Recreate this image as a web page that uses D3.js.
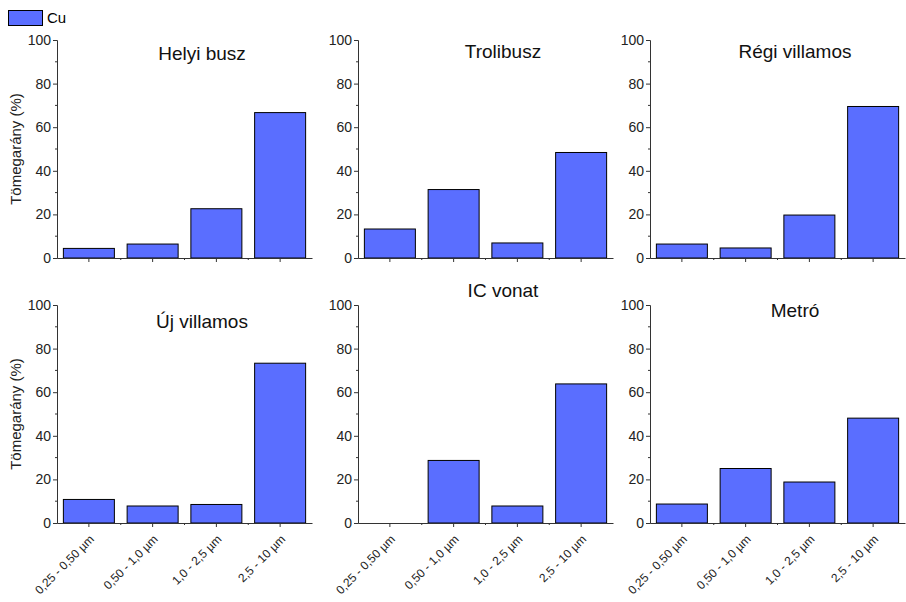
<!DOCTYPE html>
<html>
<head>
<meta charset="utf-8">
<script src="https://d3js.org/d3.v7.min.js"></script>
<style>
  body { margin: 0; background: #fff; }
  svg { font-family: Arial, "Liberation Sans", sans-serif; }
</style>
</head>
<body>
<div id="chart"></div>
<script>
// size classes on the x axis
var categories = ["0,25 - 0,50 µm", "0,50 - 1,0 µm", "1,0 - 2,5 µm", "2,5 - 10 µm"];

// one panel per vehicle type
var titles = ["Helyi busz", "Trolibusz", "Régi villamos", "Új villamos", "IC vonat", "Metró"];

// Cu mass share (%) per size class
var helyiBusz    = [4.4, 6.4, 22.6, 66.7];
var trolibusz    = [13.3, 31.4, 6.9, 48.4];
var regiVillamos = [6.4, 4.6, 19.7, 69.5];
var ujVillamos   = [10.8, 7.8, 8.5, 73.3];
var icVonat      = [0, 28.7, 7.8, 63.8];
var metro        = [8.7, 25.0, 18.8, 48.1];

var yTicks = [0, 20, 40, 60, 80, 100];
var seriesName = "Cu";
var yLabel = "Tömegarány (%)";

var series = [helyiBusz, trolibusz, regiVillamos, ujVillamos, icVonat, metro];

var width = 906, height = 602;
var fill = "#5a6eff";

// panel layout: left edge of each column, top / bottom of each row
var colLeft = [57, 358, 650],
    plotW = 255,
    rowTop = [40, 305],
    plotH = 218;
// title baseline for each panel
var titleY = [60, 58, 58, 328, 297, 317];

var svg = d3.select("#chart").append("svg")
    .attr("width", width)
    .attr("height", height);

// legend
svg.append("rect")
    .attr("x", 8.5).attr("y", 10.5)
    .attr("width", 34).attr("height", 15)
    .attr("fill", fill)
    .attr("stroke", "#000");
svg.append("text")
    .attr("x", 47).attr("y", 23)
    .style("font-size", "15px")
    .text(seriesName);

series.forEach(function(values, i) {
  var row = Math.floor(i / 3), col = i % 3;
  var x0 = colLeft[col], y0 = rowTop[row];

  var x = d3.scaleBand()
      .domain(categories)
      .range([x0, x0 + plotW])
      .paddingInner(0.2)
      .paddingOuter(0.1);
  var y = d3.scaleLinear()
      .domain([0, 100])
      .range([y0 + plotH, y0]);

  var g = svg.append("g");

  // bars
  g.selectAll(".bar")
      .data(values)
    .enter().append("rect")
      .attr("class", "bar")
      .attr("x", function(d, j) { return x(categories[j]); })
      .attr("width", x.bandwidth())
      .attr("y", function(d) { return y(d); })
      .attr("height", function(d) { return y(0) - y(d); })
      .attr("fill", fill)
      .attr("stroke", "#000")
      .attr("stroke-width", 1)
      .style("display", function(d) { return d > 0 ? null : "none"; });

  // y axis
  var yAxis = g.append("g")
      .attr("transform", "translate(" + x0 + ",0)")
      .call(d3.axisLeft(y).tickValues(yTicks).tickSize(4).tickPadding(2));
  yAxis.attr("font-family", null).attr("font-size", null);
  yAxis.select(".domain").attr("stroke", "#333");
  yAxis.selectAll(".tick line").attr("stroke", "#333");
  yAxis.selectAll("text").style("font-size", "14px").attr("fill", "#222");
  // minor ticks
  yAxis.selectAll(".minor")
      .data([10, 30, 50, 70, 90])
    .enter().append("line")
      .attr("class", "minor")
      .attr("x1", -2).attr("x2", 0)
      .attr("y1", function(d) { return y(d); })
      .attr("y2", function(d) { return y(d); })
      .attr("stroke", "#333");

  // x axis
  var xAxis = g.append("g")
      .attr("transform", "translate(0," + (y0 + plotH) + ")")
      .call(d3.axisBottom(x).tickSize(4).tickSizeOuter(0));
  xAxis.attr("font-family", null).attr("font-size", null);
  xAxis.select(".domain").attr("stroke", "#333");
  xAxis.selectAll(".tick line").attr("stroke", "#333");
  // minor ticks between bars
  xAxis.selectAll(".minor")
      .data(categories.slice(1))
    .enter().append("line")
      .attr("class", "minor")
      .attr("x1", function(d) { return x(d) - x.step() * x.paddingInner() / 2; })
      .attr("x2", function(d) { return x(d) - x.step() * x.paddingInner() / 2; })
      .attr("y1", 0).attr("y2", 2)
      .attr("stroke", "#333");

  if (row === 1) {
    xAxis.selectAll(".tick text")
        .style("font-size", "12px")
        .attr("fill", "#222")
        .attr("text-anchor", "end")
        .attr("y", 0).attr("dy", 0)
        .attr("transform", "translate(6,17) rotate(-45)");
  } else {
    xAxis.selectAll(".tick text").remove();
  }

  // panel title
  g.append("text")
      .attr("x", x0 + 145)
      .attr("y", titleY[i])
      .attr("text-anchor", "middle")
      .style("font-size", "19px")
      .attr("fill", "#111")
      .text(titles[i]);

  // y axis label on the left column
  if (col === 0) {
    g.append("text")
        .attr("transform", "translate(21," + (y0 + plotH / 2) + ") rotate(-90)")
        .attr("text-anchor", "middle")
        .style("font-size", "15px")
        .attr("fill", "#222")
        .text(yLabel);
  }
});
</script>
</body>
</html>
